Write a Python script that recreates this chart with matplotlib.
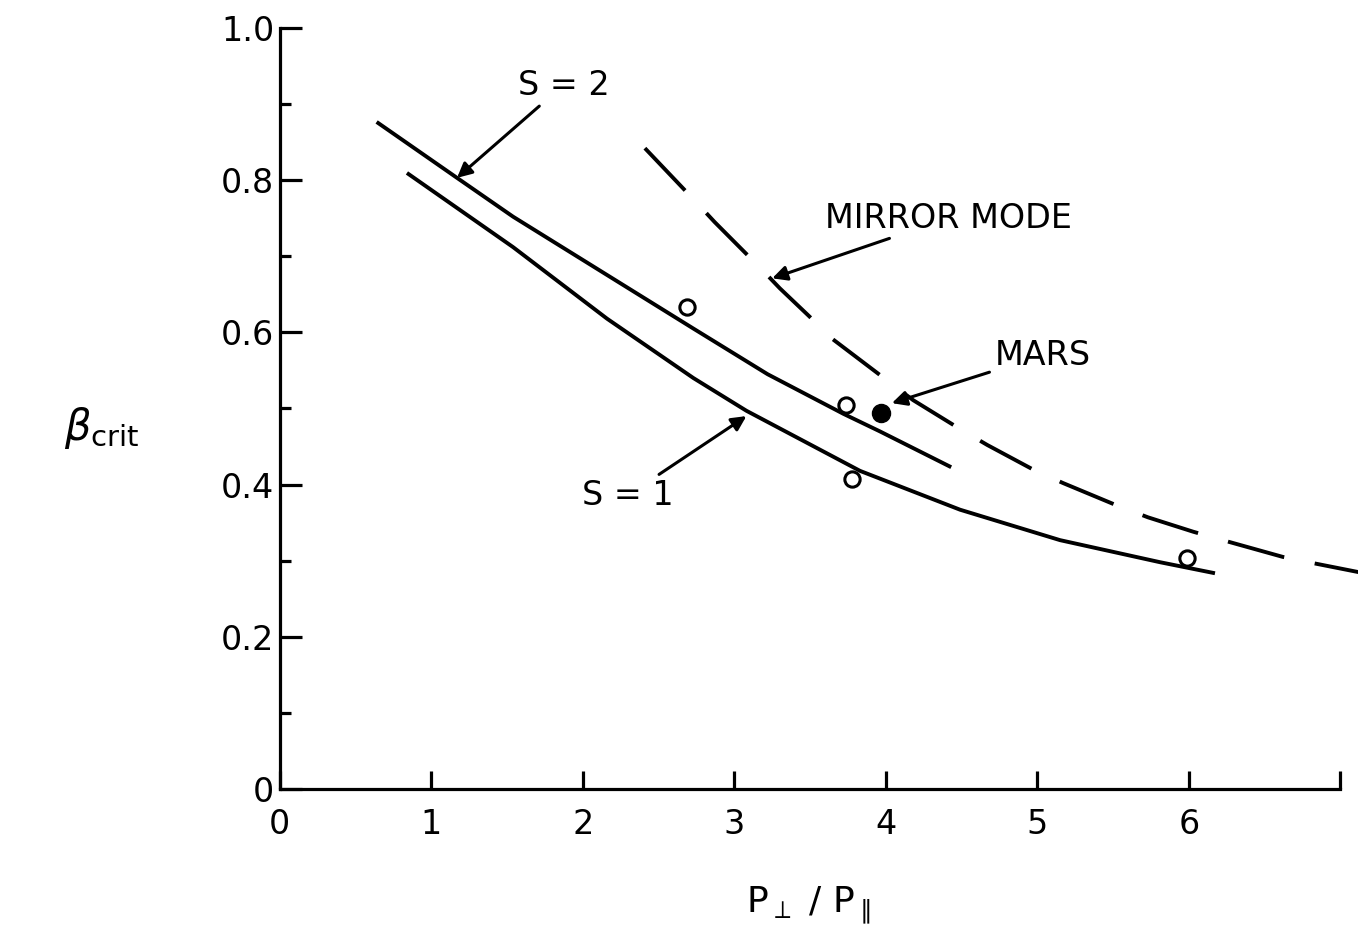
import numpy as np
import matplotlib
matplotlib.use('Agg')
import matplotlib.pyplot as plt

plt.rcParams['font.family'] = ['DejaVu Sans']
plt.rcParams['font.size'] = 24
plt.rcParams['mathtext.fontset'] = 'dejavusans'

# curves: beta_crit vs p_perp / p_par
ratio_s2 = [0.65, 1.17, 1.54, 2.22, 2.73, 3.22, 3.72, 3.96, 4.42]
beta_s2 = [0.875, 0.803, 0.752, 0.668, 0.605, 0.545, 0.493, 0.470, 0.424]

ratio_s1 = [0.85, 1.54, 2.16, 2.73, 3.08, 3.83, 4.49, 5.15, 5.81, 6.16]
beta_s1 = [0.808, 0.712, 0.618, 0.540, 0.497, 0.418, 0.367, 0.327, 0.298, 0.284]

ratio_mm = [2.41, 2.73, 2.87, 3.17, 3.30, 3.49, 3.65, 4.18, 4.49, 4.67, 4.97,
            5.17, 5.52, 5.73, 6.03, 6.26, 6.62, 6.79, 7.12]
beta_mm = [0.842, 0.775, 0.745, 0.685, 0.658, 0.622, 0.591, 0.511, 0.473, 0.452,
           0.42, 0.402, 0.373, 0.357, 0.338, 0.325, 0.305, 0.298, 0.285]

obs_ratio = [2.69, 3.74, 3.78, 5.99]
obs_beta = [0.633, 0.505, 0.407, 0.304]

mars_ratio = [3.97]
mars_beta = [0.494]

fig = plt.figure(figsize=(13.58, 9.31), dpi=100)
ax = fig.add_axes([0.206, 0.1525, 0.781, 0.8175])

ax.plot(ratio_s2, beta_s2, color='black', lw=2.8)
ax.plot(ratio_s1, beta_s1, color='black', lw=2.8)
ax.plot(ratio_mm, beta_mm, color='black', lw=2.8, dashes=(15, 8), clip_on=False)
ax.plot(obs_ratio, obs_beta, 'o', ms=11, mfc='white', mec='black', mew=2.2)
ax.plot(mars_ratio, mars_beta, 'o', ms=13, color='black')

ax.set_xlim(0, 7)
ax.set_ylim(0, 1.0)
ax.spines['top'].set_visible(False)
ax.spines['right'].set_visible(False)
for s in ['left', 'bottom']:
    ax.spines[s].set_linewidth(2.3)

ax.set_xticks(range(8))
ax.set_xticklabels(['0', '1', '2', '3', '4', '5', '6', ''])
ax.set_yticks([0, 0.2, 0.4, 0.6, 0.8, 1.0])
ax.set_yticklabels(['0', '0.2', '0.4', '0.6', '0.8', '1.0'])
ax.set_yticks(np.arange(0.1, 1.0, 0.2), minor=True)
ax.tick_params(axis='x', direction='in', length=13, width=2.3, pad=14)
ax.tick_params(axis='y', which='major', direction='in', length=16, width=2.3, pad=4)
ax.tick_params(axis='y', which='minor', direction='in', length=8, width=2.3)

arrow = dict(arrowstyle='-|>', color='black', lw=2.2, mutation_scale=22, shrinkA=2, shrinkB=0)
ax.annotate('S = 2', xy=(1.17, 0.803), xytext=(1.57, 0.925), ha='left', va='center',
            arrowprops=arrow)
ax.annotate('MIRROR MODE', xy=(3.25, 0.671), xytext=(3.6, 0.75), ha='left', va='center',
            arrowprops=arrow)
ax.annotate('MARS', xy=(4.04, 0.507), xytext=(4.72, 0.57), ha='left', va='center',
            arrowprops=arrow)
ax.annotate('S = 1', xy=(3.08, 0.49), xytext=(2.6, 0.386), ha='right', va='center',
            arrowprops=arrow)

fig.text(0.075, 0.54, r'$\beta_{\mathrm{crit}}$', fontsize=30, ha='center', va='center')
fig.text(0.595, 0.028, r'$\mathrm{P}_{\perp}\ /\ \mathrm{P}_{\parallel}$', fontsize=26,
         ha='center', va='center')

fig.savefig('out.png', dpi=100)
